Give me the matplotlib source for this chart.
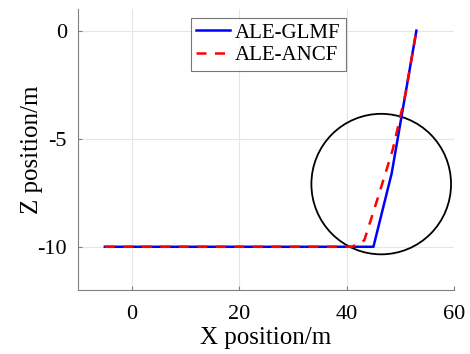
import numpy as np
import matplotlib.pyplot as plt
from matplotlib.patches import Ellipse

plt.rcParams['font.family'] = ['Liberation Serif', 'DejaVu Serif']
plt.rcParams['axes.unicode_minus'] = False

# trajectories
x_glmf = [-5, 45, 48.4, 53]
z_glmf = [-10, -10, -6.6, 0]
x_ancf = [-5, 41, 43.3, 46.0, 48.6, 51.0, 53]
z_ancf = [-10, -10, -9.7, -7.6, -5.5, -2.9, 0]

# highlighted region
circ_center = (46.45, -7.1)
circ_w, circ_h = 26.0, 6.5

fig = plt.figure(figsize=(4.7, 3.54), dpi=100)
ax = fig.add_axes([78/470, 1-290/354, (454-78)/470, (290-9)/354])

ax.plot(x_glmf, z_glmf, color='#0000ff', lw=1.8, label='ALE-GLMF')
ax.plot(x_ancf, z_ancf, color='#ff0000', lw=1.8, ls=(0, (4.0, 3.4)), label='ALE-ANCF')
ax.add_patch(Ellipse(circ_center, circ_w, circ_h, fill=False, ec='black', lw=1.3))

ax.set_xlim(-10, 60)
ax.set_ylim(-12, 1)
ax.set_xticks([0, 20, 40, 60])
ax.set_yticks([-10, -5, 0])
ax.grid(True, color='#e6e6e6', lw=0.8)
ax.set_axisbelow(True)
for s in ['top', 'right']:
    ax.spines[s].set_visible(False)
for s in ['left', 'bottom']:
    ax.spines[s].set_color('#808080')
ax.tick_params(direction='in', length=3, color='#808080', labelsize=16)
ax.tick_params(axis='x', pad=11)
ax.tick_params(axis='y', pad=8)
ax.set_xlabel('X position/m', fontsize=18, labelpad=2)
ax.set_ylabel('Z position/m', fontsize=18)
ax.yaxis.set_label_coords(-0.093, 0.5)

leg = ax.legend(loc='upper left', bbox_to_anchor=((191-78)/376, 1-(18-9)/281),
                fontsize=15, frameon=True, fancybox=False, edgecolor='#555555',
                handlelength=1.6, handletextpad=0.25, borderpad=0.25, labelspacing=0.15,
                borderaxespad=0)
leg.get_frame().set_linewidth(0.8)

fig.savefig('out.png', dpi=100)
